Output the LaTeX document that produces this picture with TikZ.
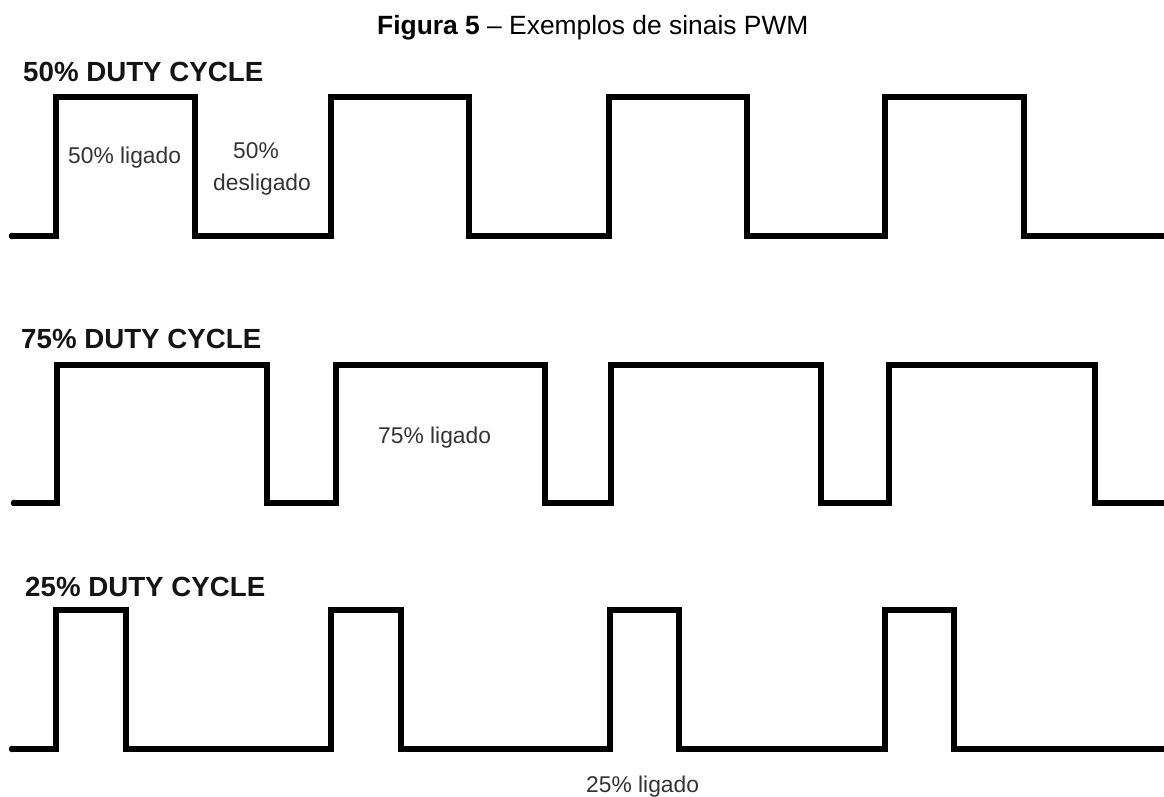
\documentclass[tikz,border=0pt]{standalone}
\usepackage{fontspec}
\setmainfont{Liberation Sans}
\begin{document}
\begin{tikzpicture}[x=1pt,y=-1pt,
  sig/.style={line width=6.6pt,line join=miter,line cap=butt,black},
  heading/.style={anchor=base west,inner sep=0pt,font=\fontsize{27.7}{30}\selectfont\bfseries,text=black!92},
  lbl/.style={anchor=base west,inner sep=0pt,font=\fontsize{22.8}{26}\selectfont,text=black!80},
  ttl/.style={anchor=base west,inner sep=0pt,font=\fontsize{26.4}{30}\selectfont,text=black}]
\useasboundingbox (0,0) rectangle (1164,797);
\node[ttl] (title) at (377,35) {\textbf{Figura 5} – Exemplos de sinais PWM};
% 50%
\node[heading] (h1) at (23,82) {50\% DUTY CYCLE};
\draw[sig] (12,236) -- (56,236) -- (56,97) -- (195,97) -- (195,236) -- (331,236) -- (331,97) -- (469,97) -- (469,236)
  -- (609,236) -- (609,97) -- (747,97) -- (747,236) -- (885,236) -- (885,97) -- (1024,97) -- (1024,236) -- (1170,236);
\fill[black] (12,236) circle (3.3pt);
\node[lbl] (l1) at (68,163) {50\% ligado};
\node[lbl,anchor=base] (l2) at (256,158) {50\%};
\node[lbl] (l3) at (213,190) {desligado};
% 75%
\node[heading] (h2) at (21,348) {75\% DUTY CYCLE};
\draw[sig] (14,503) -- (57,503) -- (57,365) -- (267,365) -- (267,503) -- (336,503) -- (336,365) -- (545,365) -- (545,503)
  -- (611,503) -- (611,365) -- (821,365) -- (821,503) -- (889,503) -- (889,365) -- (1095,365) -- (1095,503) -- (1170,503);
\fill[black] (14,503) circle (3.3pt);
\node[lbl] (l4) at (378,443) {75\% ligado};
% 25%
\node[heading] (h3) at (25,596) {25\% DUTY CYCLE};
\draw[sig] (12,749) -- (56,749) -- (56,610) -- (126,610) -- (126,749) -- (331,749) -- (331,610) -- (401,610) -- (401,749)
  -- (610,749) -- (610,610) -- (679,610) -- (679,749) -- (885,749) -- (885,610) -- (954,610) -- (954,749) -- (1170,749);
\fill[black] (12,749) circle (3.3pt);
\node[lbl] (l5) at (586,792) {25\% ligado};
\end{tikzpicture}
\end{document}
